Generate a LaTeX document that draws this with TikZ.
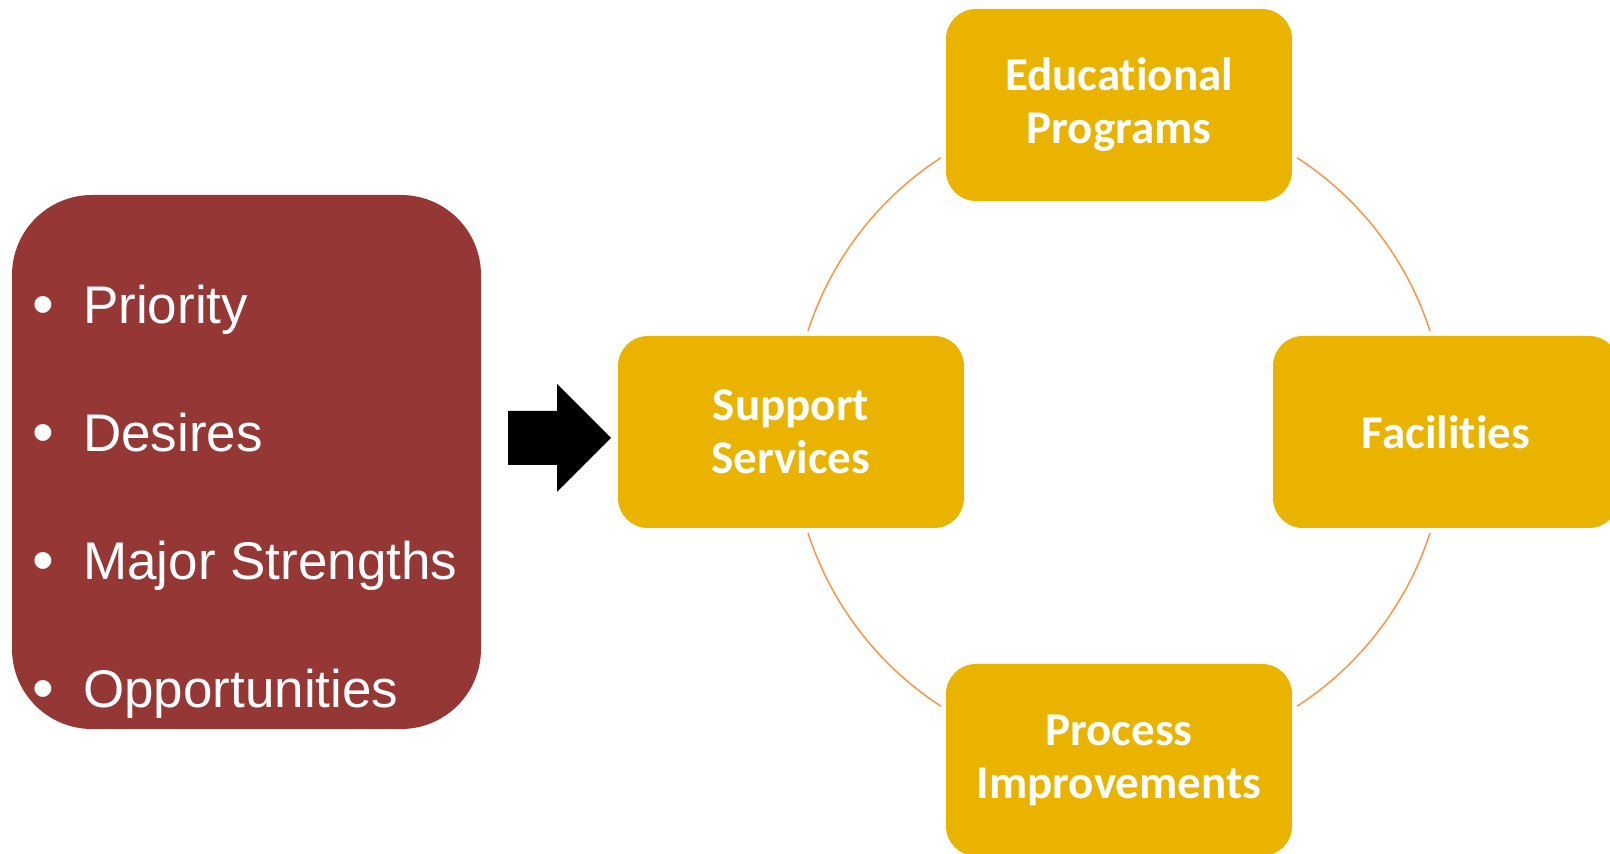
\documentclass[tikz,border=0pt]{standalone}
\usepackage{fontspec}
\setmainfont{Liberation Sans}
\newfontfamily\calibri[Ligatures=NoCommon]{Carlito}
\definecolor{needred}{HTML}{953735}
\definecolor{areagold}{HTML}{E9B300}
\definecolor{ringorange}{HTML}{F79646}

\begin{document}
\begin{tikzpicture}[x=1pt, y=1pt,
  area node/.style={rectangle, rounded corners=30pt, fill=areagold, text=white,
                    minimum width=346pt, minimum height=192pt, align=center,
                    inner sep=0pt, font=\calibri\bfseries\fontsize{47}{53}\selectfont},
  need text/.style={text=white, inner sep=0pt, font=\fontsize{53}{60}\selectfont},
  ring/.style={ringorange, line width=1.5pt}]

\useasboundingbox (0,0) rectangle (1610,854);

% list of needs
\node[rectangle, rounded corners=80pt, fill=needred,
      minimum width=469pt, minimum height=534pt](needs) at (246.5,392) {};

\foreach \need [count=\i] in {Priority, Desires, Major Strengths, Opportunities} {
  \node[need text, anchor=base, font=\fontsize{62}{60}\selectfont](bullet\i) at (43, 656-128*\i) {•};
  \node[need text, anchor=base west](need\i) at (83, 658-128*\i) {\need};
}

% block arrow
\fill[black] (508,443) -- (557,443) -- (557,470) -- (611,416)
             -- (557,362) -- (557,389) -- (508,389) -- cycle;

% areas on the ring
\node[area node](edu) at (1119,749) {Educational\\Programs};
\node[area node](fac) at (1446,422) {Facilities};
\node[area node](proc) at (1119,94) {Process\\Improvements};
\node[area node](supp) at (791,422) {Support\\Services};

\coordinate (hub) at (1119,422);
\foreach \a in {18,123,198,303}
  \draw[ring] (hub) ++(\a:327) arc[start angle=\a, delta angle=39, radius=327pt];

\end{tikzpicture}
\end{document}
